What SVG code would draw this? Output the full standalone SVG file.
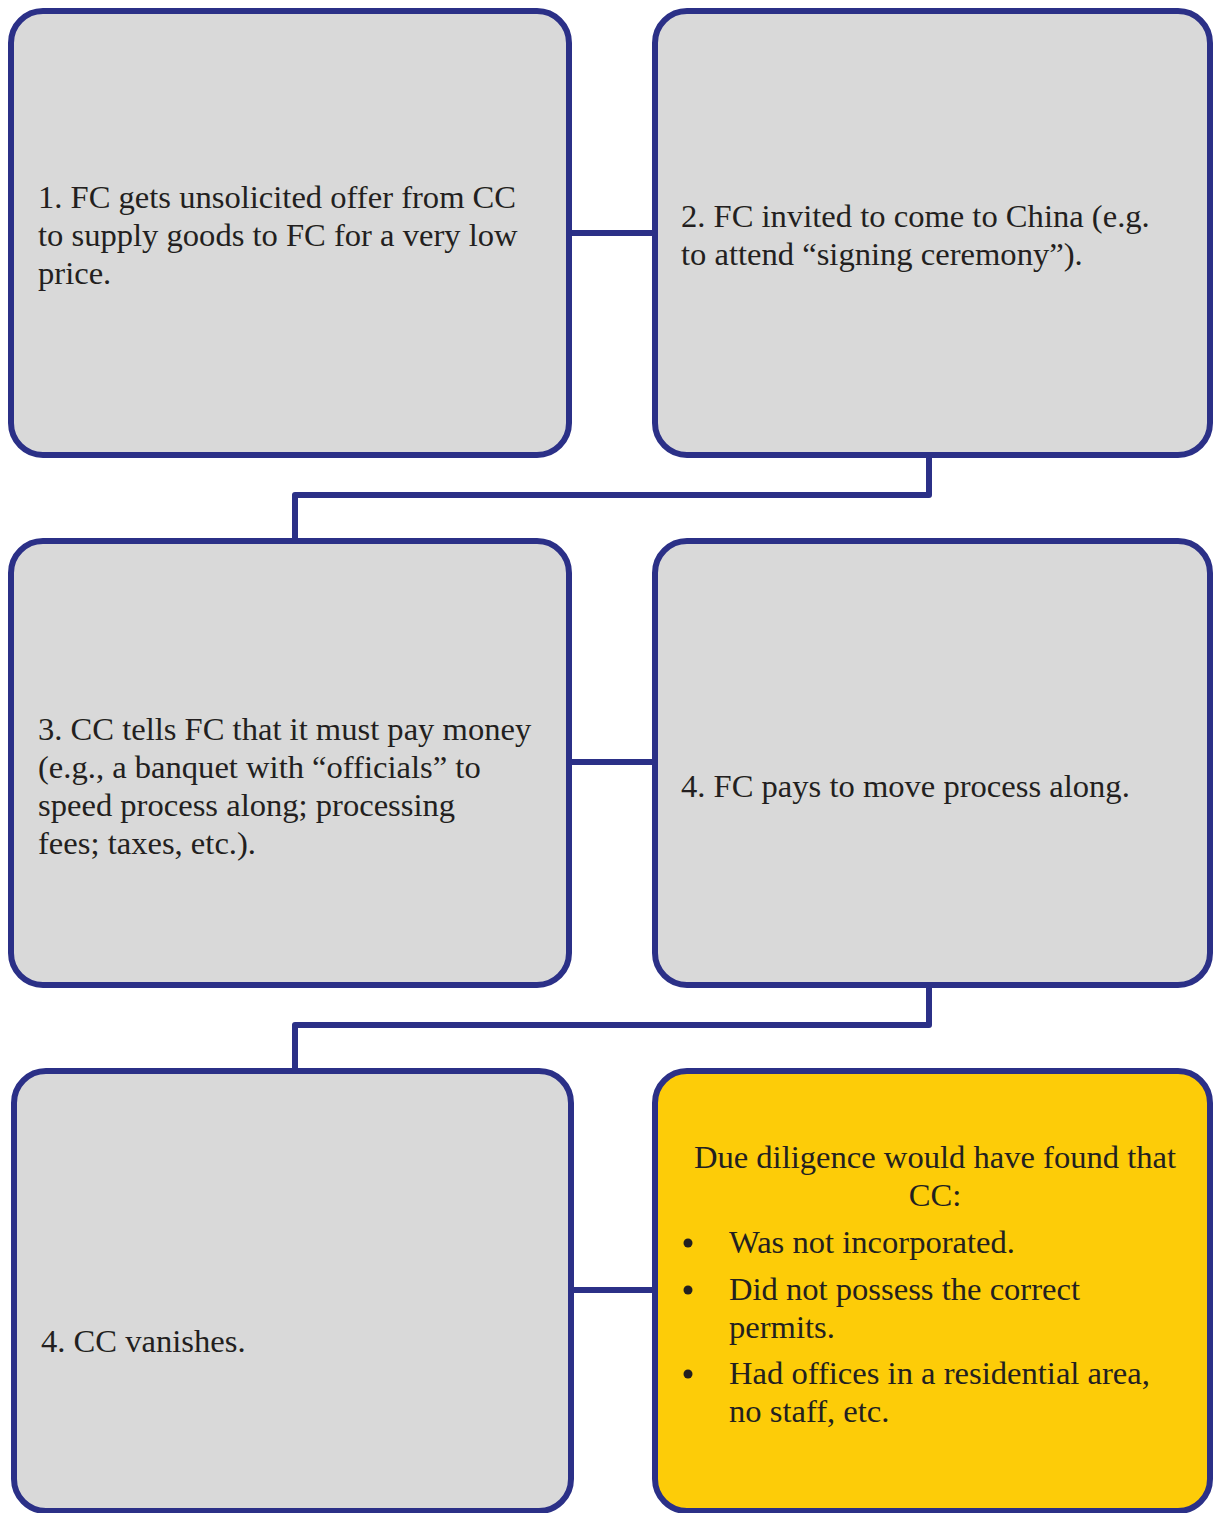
<svg xmlns="http://www.w3.org/2000/svg" width="1215" height="1513" viewBox="0 0 1215 1513">
<style>
.box{fill:#D9D9D9;stroke:#2B3087;stroke-width:6}
.yel{fill:#FDCC08;stroke:#2B3087;stroke-width:6}
.conn{fill:none;stroke:#2B3087;stroke-width:6;stroke-linejoin:round}
text{font-family:"Liberation Serif","Times New Roman",serif;font-size:32.6px;fill:#231F20}
</style>
<rect width="1215" height="1513" fill="#FFFFFF"/>
<g id="connectors">
<path class="conn" d="M572 233H652"/>
<path class="conn" d="M929 458V495H295V538"/>
<path class="conn" d="M572 762H652"/>
<path class="conn" d="M929 988V1025H295V1068"/>
<path class="conn" d="M574 1290H652"/>
</g>
<g id="n1">
<rect class="box" x="11" y="11" width="558" height="444" rx="32"/>
<text x="38" y="208">1. FC gets unsolicited offer from CC</text>
<text x="38" y="246">to supply goods to FC for a very low</text>
<text x="38" y="284">price.</text>
</g>
<g id="n2">
<rect class="box" x="655" y="11" width="555" height="444" rx="32"/>
<text x="681" y="227">2. FC invited to come to China (e.g.</text>
<text x="681" y="265">to attend “signing ceremony”).</text>
</g>
<g id="n3">
<rect class="box" x="11" y="541" width="558" height="444" rx="32"/>
<text x="38" y="740">3. CC tells FC that it must pay money</text>
<text x="38" y="778">(e.g., a banquet with “officials” to</text>
<text x="38" y="816">speed process along; processing</text>
<text x="38" y="854">fees; taxes, etc.).</text>
</g>
<g id="n4">
<rect class="box" x="655" y="541" width="555" height="444" rx="32"/>
<text x="681" y="797">4. FC pays to move process along.</text>
</g>
<g id="n5">
<rect class="box" x="14" y="1071" width="557" height="440" rx="32"/>
<text x="41" y="1352">4. CC vanishes.</text>
</g>
<g id="n6">
<rect class="yel" x="655" y="1071" width="555" height="440" rx="32"/>
<text x="935" y="1168" text-anchor="middle">Due diligence would have found that</text>
<text x="935" y="1206" text-anchor="middle">CC:</text>
<circle cx="688" cy="1243" r="4.5" fill="#231F20"/>
<circle cx="688" cy="1290" r="4.5" fill="#231F20"/>
<circle cx="688" cy="1374" r="4.5" fill="#231F20"/>
<text x="729" y="1253">Was not incorporated.</text>
<text x="729" y="1300">Did not possess the correct</text>
<text x="729" y="1338">permits.</text>
<text x="729" y="1384">Had offices in a residential area,</text>
<text x="729" y="1422">no staff, etc.</text>
</g>
</svg>
